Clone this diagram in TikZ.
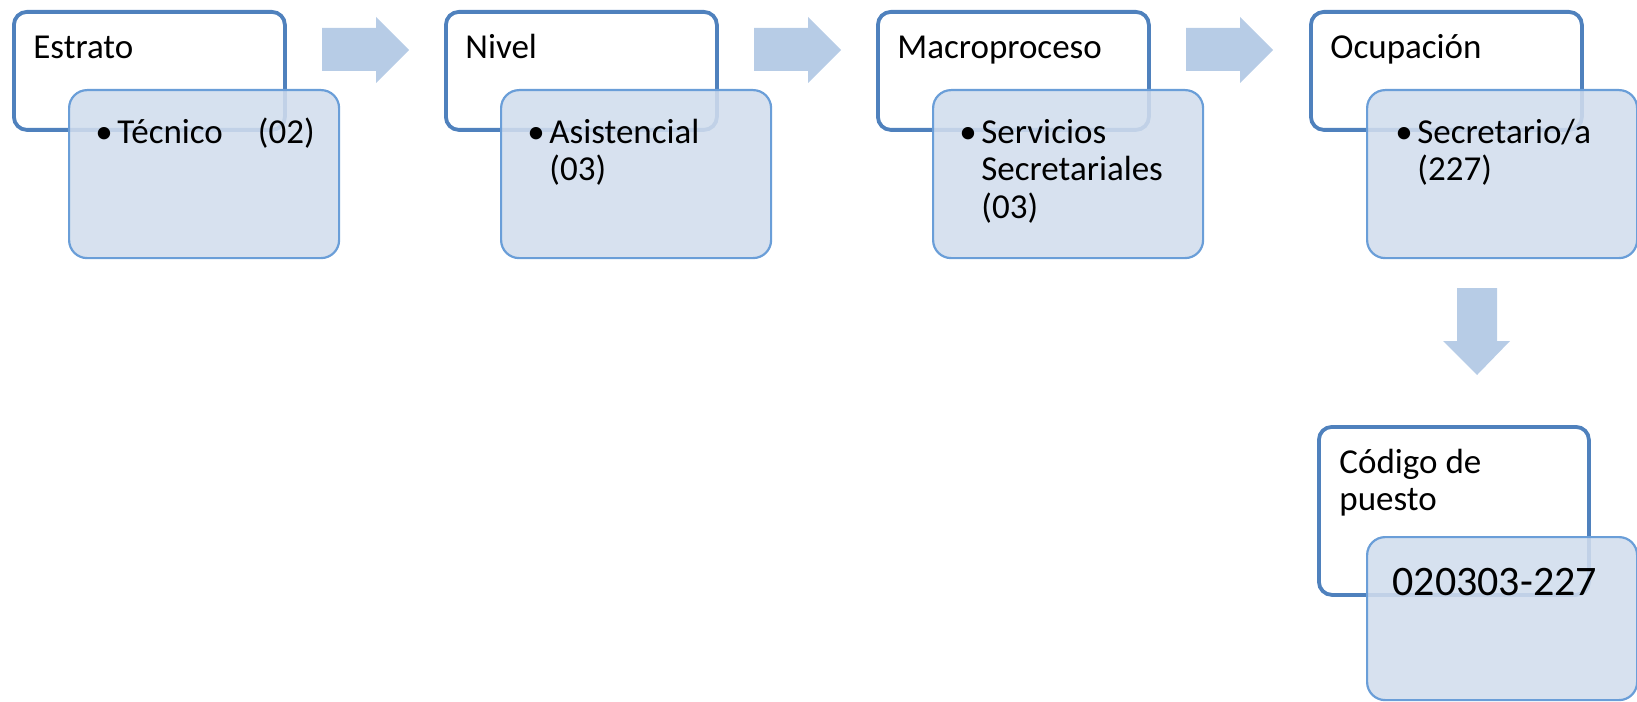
\documentclass[tikz,border=0pt]{standalone}
\usepackage{fontspec}
\setmainfont{Carlito}
\definecolor{outerblue}{HTML}{4F81BD}
\definecolor{innerline}{HTML}{6A9ED8}
\definecolor{innerfill}{HTML}{D1DDED}
\definecolor{arrowfill}{HTML}{B7CCE6}
\tikzset{
  outerbox/.style={draw=outerblue, line width=1.9pt, rounded corners=6.5pt, fill=white,
    anchor=north west, minimum width=135.5pt, minimum height=59pt, inner sep=0pt},
  innerbox/.style={draw=innerline, line width=1.1pt, rounded corners=9pt, fill=innerfill,
    fill opacity=0.88, anchor=north west, minimum width=135pt, minimum height=84pt, inner sep=0pt},
  lbl/.style={anchor=base west, inner sep=0pt, font=\fontsize{17.5}{18.75}\selectfont},
  biglbl/.style={anchor=base west, inner sep=0pt, font=\fontsize{21}{25}\selectfont},
  blockarrow/.style={fill=arrowfill, draw=none}
}
\newcommand{\bul}[1]{\begin{tabular}[t]{@{}p{11pt}@{}l@{}}\textbullet & #1\end{tabular}}
\begin{document}
\begin{tikzpicture}[x=0.5pt,y=-0.5pt]
\useasboundingbox (0,0) rectangle (1637,701);
% stage 1
\node[outerbox] (o1) at (12,10) {};
\node[innerbox] (i1) at (68,89) {};
\node[lbl] (t1) at (33,59) {Estrato};
\node[lbl] (b1) at (95,143) {\bul{Técnico\hspace{17.5pt}(02)}};
% stage 2
\node[outerbox] (o2) at (444,10) {};
\node[innerbox] (i2) at (500,89) {};
\node[lbl] (t2) at (465,59) {Nivel};
\node[lbl] (b2) at (527,143) {\bul{Asistencial\\ & (03)}};
% stage 3
\node[outerbox] (o3) at (876,10) {};
\node[innerbox] (i3) at (932,89) {};
\node[lbl] (t3) at (897,59) {Macroproceso};
\node[lbl] (b3) at (959,143) {\bul{Servicios\\ & Secretariales\\ & (03)}};
% stage 4
\node[outerbox] (o4) at (1309,10) {};
\node[innerbox] (i4) at (1366,89) {};
\node[lbl] (t4) at (1330,59) {Ocupación};
\node[lbl] (b4) at (1395,143) {\bul{Secretario/a\\ & (227)}};
% result
\node[outerbox, minimum width=135pt, minimum height=84pt] (o5) at (1317,425) {};
\node[innerbox, minimum height=81.5pt] (i5) at (1366,536) {};
\node[lbl] (t5) at (1339,473) {\begin{tabular}[t]{@{}l@{}}Código de\\ puesto\end{tabular}};
\node[biglbl] (c5) at (1392,595) {020303-227};
% block arrows
\foreach \k in {0,1,2}{
  \fill[blockarrow] ({322+432*\k},28) -- ({376+432*\k},28) -- ({376+432*\k},17) -- ({409+432*\k},50)
     -- ({376+432*\k},83) -- ({376+432*\k},71) -- ({322+432*\k},71) -- cycle;
}
\fill[blockarrow] (1457,288) -- (1497,288) -- (1497,341) -- (1510,341) -- (1477,375)
   -- (1443,341) -- (1457,341) -- cycle;
\end{tikzpicture}
\end{document}
